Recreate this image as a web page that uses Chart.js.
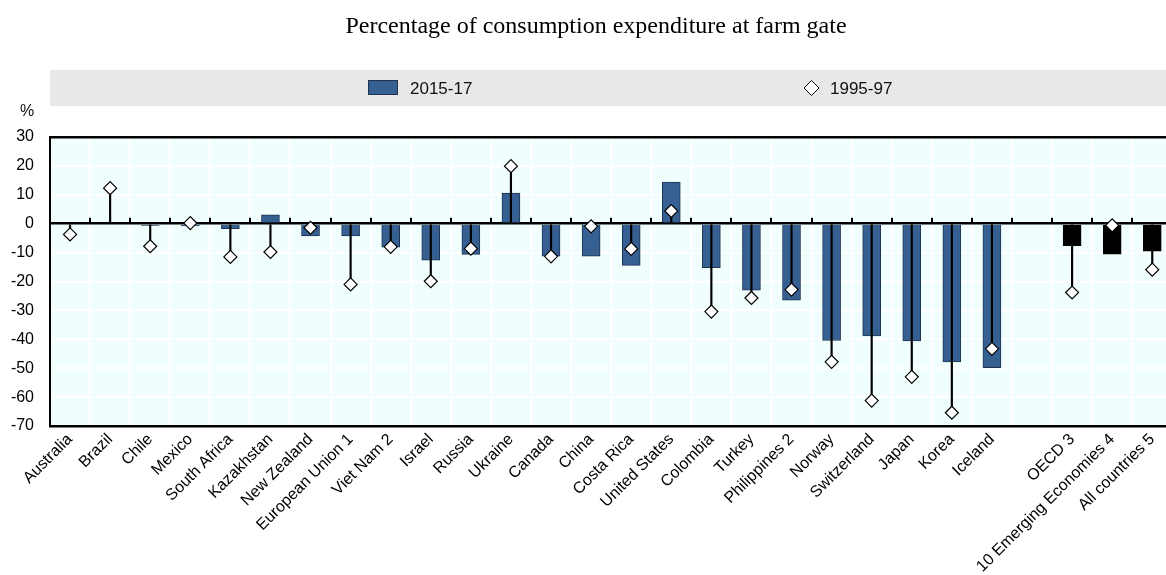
<!DOCTYPE html>
<html>
<head>
<meta charset="utf-8">
<script src="https://cdn.jsdelivr.net/npm/chart.js@4/dist/chart.umd.min.js"></script>
<style>
  html, body { margin: 0; padding: 0; background: #fff; overflow: hidden; }
  #wrap { width: 1180px; height: 575px; }
</style>
</head>
<body>
<div id="wrap"><canvas id="farmChart" width="1180" height="575"></canvas></div>
<script>
// Data
const countries = ["Australia", "Brazil", "Chile", "Mexico", "South Africa", "Kazakhstan", "New Zealand",
    "European Union 1", "Viet Nam 2", "Israel", "Russia", "Ukraine", "Canada", "China", "Costa Rica",
    "United States", "Colombia", "Turkey", "Philippines 2", "Norway", "Switzerland", "Japan", "Korea",
    "Iceland", "", "OECD 3", "10 Emerging Economies 4", "All countries 5"];
const aggregates = ["OECD 3", "10 Emerging Economies 4", "All countries 5"];

const share2015 = [0, 0, -0.6, -0.8, -1.7, 3.1, -4.2, -4.2, -8.1, -12.6, -10.6, 10.6, -11.2, -11.2, -14.4,
    14.4, -15.2, -23.0, -26.5, -40.4, -38.8, -40.6, -47.8, -49.8, null, -7.6, -10.5, -9.5];
const share1995 = [-3.7, 12.3, -7.8, 0.2, -11.5, -9.8, -1.4, -21.0, -8.0, -19.9, -8.6, 19.9, -11.3, -0.9, -8.7,
    4.4, -30.4, -25.7, -22.8, -47.8, -61.2, -53.0, -65.4, -43.3, null, -23.8, -0.6, -15.9];

const yTicks = [30, 20, 10, 0, -10, -20, -30, -40, -50, -60, -70];
const titleText = "Percentage of consumption expenditure at farm gate";
const legendLabels = ["2015-17", "1995-97"];

const BLUE = "#376092";
const BLUE_EDGE = "#1d3350";

// stick from zero to the 1995-97 marker
const sticks = share1995.map(v => v === null ? null : [0, v]);

// background, tick marks, title, legend band and % label
const decor = {
    id: "decor",
    beforeDraw(chart) {
        const { ctx, chartArea: a } = chart;
        ctx.save();
        ctx.fillStyle = "#F1FEFE";
        ctx.fillRect(a.left, a.top, a.right - a.left, a.bottom - a.top);
        ctx.restore();
    },
    beforeDatasetsDraw(chart) {
        const { ctx } = chart;
        const x = chart.scales.x, y = chart.scales.y;
        const y0 = y.getPixelForValue(0);
        ctx.save();
        ctx.strokeStyle = "#000";
        ctx.lineWidth = 2;
        for (let i = 1; i < countries.length; i++) {
            const px = Math.round(x.getPixelForValue(i - 0.5));
            ctx.beginPath();
            ctx.moveTo(px, y0);
            ctx.lineTo(px, y0 - 6);
            ctx.stroke();
        }
        ctx.restore();
    },
    afterDraw(chart) {
        const { ctx, chartArea: a, width } = chart;
        ctx.save();
        // title
        ctx.fillStyle = "#000";
        ctx.font = '24px "Liberation Serif", "Times New Roman", serif';
        ctx.textAlign = "center";
        ctx.textBaseline = "middle";
        ctx.fillText(titleText, 596, 27);

        // legend band
        ctx.fillStyle = "#E8E8E8";
        ctx.fillRect(a.left, 70, width - a.left, 36);
        ctx.fillStyle = BLUE;
        ctx.strokeStyle = BLUE_EDGE;
        ctx.lineWidth = 1;
        ctx.fillRect(368, 80, 30, 15);
        ctx.strokeRect(368.5, 80.5, 29, 14);
        ctx.beginPath();
        ctx.moveTo(811.5, 80.5);
        ctx.lineTo(819, 88);
        ctx.lineTo(811.5, 95.5);
        ctx.lineTo(804, 88);
        ctx.closePath();
        ctx.fillStyle = "#fff";
        ctx.fill();
        ctx.strokeStyle = "#000";
        ctx.stroke();
        ctx.fillStyle = "#111";
        ctx.font = '17px "Liberation Sans", Arial, sans-serif';
        ctx.textAlign = "left";
        ctx.fillText(legendLabels[0], 410, 89);
        ctx.fillText(legendLabels[1], 830, 89);

        // unit label
        ctx.font = '16px "Liberation Sans", Arial, sans-serif';
        ctx.textAlign = "center";
        ctx.fillText("%", 27, 112);
        ctx.restore();
    }
};

const ctx = document.getElementById("farmChart").getContext("2d");
const farmChart = new Chart(ctx, {
    type: "bar",
    data: {
        labels: countries,
        datasets: [
            {
                type: "line",
                label: legendLabels[1],
                data: share1995,
                showLine: false,
                pointStyle: "rectRot",
                pointRadius: 6.5,
                pointBackgroundColor: "#fff",
                pointBorderColor: "#000",
                pointBorderWidth: 1.2,
                order: 0
            },
            {
                label: "stick",
                data: sticks,
                backgroundColor: "#000",
                barThickness: 1.5,
                grouped: false,
                order: 1
            },
            {
                label: legendLabels[0],
                data: share2015,
                backgroundColor: countries.map(c => aggregates.includes(c) ? "#000" : BLUE),
                borderColor: countries.map(c => aggregates.includes(c) ? "#000" : BLUE_EDGE),
                borderWidth: 1,
                barThickness: 18,
                grouped: false,
                order: 2
            }
        ]
    },
    options: {
        responsive: false,
        animation: false,
        events: [],
        layout: { padding: { top: 137, right: 2, left: 0, bottom: 0 } },
        plugins: {
            legend: { display: false },
            title: { display: false },
            tooltip: { enabled: false }
        },
        scales: {
            x: {
                offset: true,
                grid: { color: "#fff", lineWidth: 2, offset: true, drawTicks: false },
                border: { display: false },
                ticks: {
                    autoSkip: false,
                    maxRotation: 45,
                    minRotation: 45,
                    padding: 4,
                    color: "#000",
                    font: { family: '"Liberation Sans", Arial, sans-serif', size: 16 }
                },
                afterFit(s) {
                    s.height = 149;
                    s.paddingLeft = 0;
                    s.paddingRight = 0;
                }
            },
            y: {
                min: -70,
                max: 30,
                afterBuildTicks(s) { s.ticks = yTicks.map(v => ({ value: v })); },
                grid: {
                    drawTicks: false,
                    color: c => [0, 30, -70].includes(c.tick.value) ? "#000" : "#fff",
                    lineWidth: c => [0, 30, -70].includes(c.tick.value) ? 2.5 : 2
                },
                border: { display: true, color: "#000", width: 2 },
                ticks: {
                    padding: 16,
                    color: "#000",
                    font: { family: '"Liberation Sans", Arial, sans-serif', size: 16 }
                },
                afterFit(s) {
                    s.width = 50;
                    s.paddingTop = 0;
                    s.paddingBottom = 0;
                }
            }
        }
    },
    plugins: [decor]
});
</script>
</body>
</html>
